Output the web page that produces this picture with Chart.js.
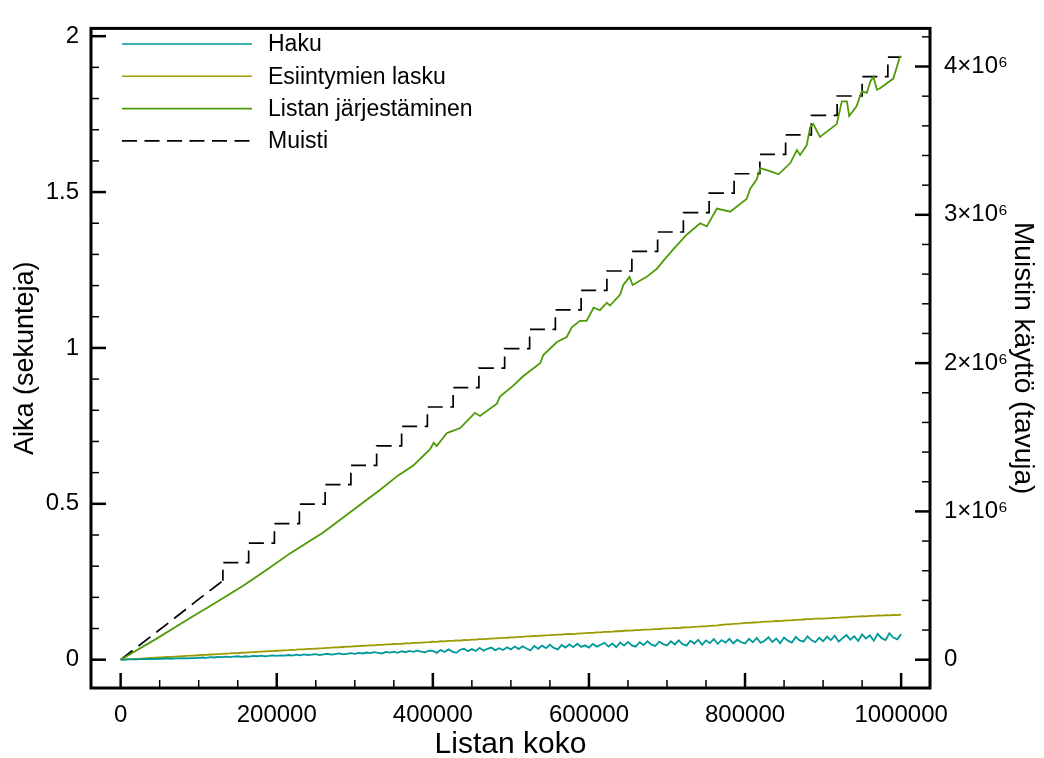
<!DOCTYPE html>
<html>
<head>
<meta charset="utf-8">
<script src="https://cdn.jsdelivr.net/npm/chart.js@4"></script>
<style>
html,body{margin:0;padding:0;background:#fff;}
canvas{display:block;}
</style>
</head>
<body>
<canvas id="c" width="1044" height="758"></canvas>
<script>
// ---------- DATA ----------
const seriesNames = ['Haku', 'Esiintymien lasku', 'Listan järjestäminen', 'Muisti'];

const listSizes = [0,5000,10000,15000,20000,25000,30000,35000,40000,45000,50000,55000,60000,65000,70000,75000,80000,85000,90000,95000,
100000,105000,110000,115000,120000,125000,130000,135000,140000,145000,150000,155000,160000,165000,170000,175000,180000,185000,190000,195000,
200000,205000,210000,215000,220000,225000,230000,235000,240000,245000,250000,255000,260000,265000,270000,275000,280000,285000,290000,295000,
300000,305000,310000,315000,320000,325000,330000,335000,340000,345000,350000,355000,360000,365000,370000,375000,380000,385000,390000,395000,
400000,405000,410000,415000,420000,425000,430000,435000,440000,445000,450000,455000,460000,465000,470000,475000,480000,485000,490000,495000,
500000,505000,510000,515000,520000,525000,530000,535000,540000,545000,550000,555000,560000,565000,570000,575000,580000,585000,590000,595000,
600000,605000,610000,615000,620000,625000,630000,635000,640000,645000,650000,655000,660000,665000,670000,675000,680000,685000,690000,695000,
700000,705000,710000,715000,720000,725000,730000,735000,740000,745000,750000,755000,760000,765000,770000,775000,780000,785000,790000,795000,
800000,805000,810000,815000,820000,825000,830000,835000,840000,845000,850000,855000,860000,865000,870000,875000,880000,885000,890000,895000,
900000,905000,910000,915000,920000,925000,930000,935000,940000,945000,950000,955000,960000,965000,970000,975000,980000,985000,990000,995000,
1000000];

const hakuTime = [0,0.000,0.001,0.001,0.001,0.002,0.002,0.002,0.003,0.002,0.003,0.003,0.004,0.003,0.004,0.004,0.005,0.004,0.005,0.005,
0.006,0.007,0.006,0.008,0.007,0.009,0.008,0.010,0.008,0.010,0.011,0.009,0.011,0.010,0.012,0.011,0.013,0.011,0.012,0.014,
0.012,0.014,0.013,0.015,0.013,0.016,0.014,0.017,0.015,0.016,0.018,0.015,0.017,0.019,0.016,0.018,0.020,0.017,0.019,0.021,
0.019,0.022,0.020,0.023,0.021,0.024,0.022,0.020,0.025,0.023,0.026,0.022,0.027,0.024,0.028,0.025,0.029,0.026,0.024,0.029,
0.028,0.022,0.031,0.025,0.033,0.026,0.022,0.032,0.035,0.027,0.034,0.028,0.038,0.029,0.035,0.039,0.030,0.037,0.031,0.040,
0.033,0.042,0.034,0.043,0.036,0.030,0.044,0.035,0.045,0.037,0.048,0.038,0.033,0.047,0.039,0.049,0.040,0.051,0.041,0.046,
0.039,0.051,0.042,0.048,0.054,0.042,0.052,0.040,0.055,0.045,0.057,0.046,0.042,0.056,0.047,0.059,0.048,0.044,0.058,0.050,
0.046,0.059,0.049,0.062,0.050,0.045,0.061,0.052,0.064,0.048,0.062,0.053,0.066,0.051,0.063,0.055,0.067,0.052,0.064,0.056,
0.052,0.067,0.056,0.070,0.054,0.061,0.072,0.057,0.068,0.053,0.071,0.061,0.055,0.073,0.062,0.058,0.075,0.063,0.056,0.070,
0.059,0.074,0.063,0.077,0.058,0.069,0.079,0.064,0.075,0.060,0.081,0.068,0.078,0.061,0.083,0.069,0.063,0.085,0.071,0.065,
0.082];

const esiintymatTime = [0,0.0007,0.0015,0.0021,0.0029,0.0035,0.0044,0.0050,0.0057,0.0064,0.0072,0.0078,0.0087,0.0092,0.0100,0.0108,0.0114,0.0122,0.0130,0.0135,
0.0143,0.0152,0.0157,0.0166,0.0171,0.0180,0.0185,0.0194,0.0200,0.0209,0.0213,0.0223,0.0228,0.0236,0.0242,0.0250,0.0257,0.0264,0.0272,0.0278,
0.0287,0.0292,0.0302,0.0306,0.0316,0.0320,0.0331,0.0334,0.0345,0.0349,0.0358,0.0365,0.0370,0.0380,0.0384,0.0394,0.0399,0.0407,0.0416,0.0420,
0.0432,0.0434,0.0447,0.0449,0.0462,0.0461,0.0477,0.0475,0.0490,0.0489,0.0503,0.0505,0.0512,0.0525,0.0522,0.0540,0.0538,0.0550,0.0556,0.0562,
0.0575,0.0574,0.0591,0.0588,0.0604,0.0601,0.0619,0.0613,0.0632,0.0628,0.0646,0.0643,0.0657,0.0660,0.0668,0.0676,0.0683,0.0692,0.0697,0.0704,
0.0718,0.0716,0.0735,0.0730,0.0748,0.0745,0.0760,0.0762,0.0773,0.0780,0.0786,0.0795,0.0801,0.0806,0.0817,0.0829,0.0822,0.0838,0.0846,0.0849,
0.0862,0.0860,0.0877,0.0874,0.0890,0.0893,0.0901,0.0912,0.0913,0.0928,0.0930,0.0935,0.0949,0.0947,0.0962,0.0966,0.0972,0.0983,0.0984,0.0996,
0.1004,0.1003,0.1020,0.1015,0.1033,0.1036,0.1044,0.1055,0.1058,0.1070,0.1071,0.1083,0.1095,0.1102,0.1118,0.1130,0.1130,0.1148,0.1155,0.1165,
0.1178,0.1180,0.1193,0.1200,0.1207,0.1218,0.1222,0.1230,0.1241,0.1240,0.1256,0.1262,0.1265,0.1280,0.1283,0.1290,0.1301,0.1300,0.1315,0.1318,
0.1320,0.1328,0.1335,0.1343,0.1348,0.1360,0.1362,0.1375,0.1380,0.1384,0.1395,0.1392,0.1408,0.1405,0.1418,0.1413,0.1428,0.1420,0.1436,0.1430,
0.1445];

const sortSizes = [0,45000,89000,120000,157000,190000,217000,260000,300000,332500,356000,375000,396500,401000,405000,418000,435000,454000,460500,482000,
486000,503000,516000,537500,541500,559000,571500,578000,588500,597000,606000,614000,623000,627000,640000,644000,652000,656000,674000,687000,
695500,710000,725500,742500,751000,764000,781000,802000,806500,815000,819500,832000,843000,858000,866500,870500,879000,883500,887500,896000,
917500,924000,930500,933500,943000,949500,956000,960500,964500,969000,973000,990000,994500,998000,1000000];
const sortTime = [0,0.066,0.134,0.180,0.237,0.293,0.341,0.409,0.484,0.545,0.592,0.623,0.675,0.696,0.685,0.727,0.743,0.792,0.782,0.821,
0.844,0.879,0.910,0.951,0.977,1.019,1.035,1.066,1.087,1.087,1.129,1.121,1.145,1.136,1.171,1.202,1.228,1.202,1.228,1.254,
1.280,1.322,1.364,1.400,1.390,1.447,1.437,1.478,1.510,1.541,1.577,1.567,1.557,1.593,1.635,1.619,1.650,1.708,1.718,1.677,
1.718,1.791,1.791,1.744,1.776,1.823,1.818,1.854,1.870,1.828,1.833,1.864,1.901,1.932,1.937];

// Memory: small-list ramp, then 128 KB steps
const memRampSizes = [0, 33000, 66000, 98000, 131000];
const memRampBytes = [0, 134000, 267000, 400000, 533000];
const memStepSizes = [131000,131000,164000,197000,229000,262000,295000,328000,360000,393000,426000,459000,492000,524000,557000,590000,623000,655000,
688000,721000,754000,786000,819000,852000,885000,918000,950000,983000,1000000];
const memStepBytes = [533000,655000,786000,917000,1049000,1180000,1311000,1442000,1573000,1704000,1835000,1966000,2097000,2228000,2359000,2490000,2621000,2753000,
2884000,3015000,3146000,3277000,3408000,3539000,3670000,3801000,3932000,4063000,4063000];

const xTickValues = [0, 200000, 400000, 600000, 800000, 1000000];
const xTickLabels = ['0', '200000', '400000', '600000', '800000', '1000000'];
const yTickValues = [0, 0.5, 1, 1.5, 2];
const yTickLabels = ['0', '0.5', '1', '1.5', '2'];
const y2TickValues = [0, 1000000, 2000000, 3000000, 4000000];
const y2TickLabels = ['0', '1×10⁶', '2×10⁶', '3×10⁶', '4×10⁶'];

// ---------- CHART ----------
const FONT = "'Liberation Sans', Arial, Helvetica, sans-serif";
const pairs = (xs, ys) => xs.map((x, i) => ({x: x, y: ys[i]}));

const frameAndTicks = {
  id: 'frameAndTicks',
  afterDatasetsDraw(chart) {
    const {ctx, chartArea: a, scales: {x, y, y2}} = chart;
    ctx.save();
    ctx.strokeStyle = '#000';
    ctx.lineCap = 'butt';
    for (let i = 0; i <= 20; i++) {
      const v = i * 50000;
      const major = i % 4 === 0;
      const px = x.getPixelForValue(v);
      ctx.lineWidth = major ? 2.5 : 1.5;
      ctx.beginPath(); ctx.moveTo(px, a.bottom); ctx.lineTo(px, a.bottom - (major ? 15 : 8)); ctx.stroke();
    }
    for (let i = 0; i <= 20; i++) {
      const v = i / 10;
      const major = i % 5 === 0;
      const py = y.getPixelForValue(v);
      ctx.lineWidth = major ? 2.5 : 1.5;
      ctx.beginPath(); ctx.moveTo(a.left, py); ctx.lineTo(a.left + (major ? 15 : 8), py); ctx.stroke();
    }
    for (let i = 0; i <= 21; i++) {
      const v = i * 200000;
      const major = i % 5 === 0;
      const py = y2.getPixelForValue(v);
      if (py < a.top) continue;
      ctx.lineWidth = major ? 2.5 : 1.5;
      ctx.beginPath(); ctx.moveTo(a.right, py); ctx.lineTo(a.right - (major ? 15 : 8), py); ctx.stroke();
    }
    ctx.lineWidth = 3;
    ctx.strokeRect(a.left, a.top, a.right - a.left, a.bottom - a.top);

    // legend
    ctx.font = '23px ' + FONT;
    ctx.textBaseline = 'middle';
    ctx.textAlign = 'left';
    chart.data.datasets.filter(ds => !ds.noLegend).forEach((ds, i) => {
      const ly = 44 + i * 32.3;
      ctx.save();
      ctx.strokeStyle = ds.borderColor;
      ctx.lineWidth = 1.6;
      ctx.setLineDash(ds.borderDash || []);
      ctx.beginPath(); ctx.moveTo(122, ly); ctx.lineTo(252, ly); ctx.stroke();
      ctx.restore();
      ctx.fillStyle = '#000';
      ctx.fillText(ds.label, 268, ly + 1);
    });
    ctx.restore();
  }
};

new Chart(document.getElementById('c'), {
  type: 'line',
  data: {
    datasets: [
      {label: seriesNames[0], data: pairs(listSizes, hakuTime), borderColor: '#009999', borderWidth: 1.8, yAxisID: 'y'},
      {label: seriesNames[1], data: pairs(listSizes, esiintymatTime), borderColor: '#9c9a00', borderWidth: 1.8, yAxisID: 'y'},
      {label: seriesNames[2], data: pairs(sortSizes, sortTime), borderColor: '#4f9a08', borderWidth: 1.8, yAxisID: 'y'},
      {label: seriesNames[3], data: pairs(memRampSizes, memRampBytes), borderColor: '#000000', borderWidth: 1.7, borderDash: [15, 7.5], yAxisID: 'y2'},
      {label: seriesNames[3], noLegend: true, data: pairs(memStepSizes, memStepBytes), borderColor: '#000000', borderWidth: 1.7, borderDash: [15, 7.5], borderDashOffset: 4, stepped: true, yAxisID: 'y2'}
    ]
  },
  options: {
    responsive: false,
    animation: false,
    events: [],
    elements: {point: {radius: 0}, line: {tension: 0, borderCapStyle: 'butt'}},
    layout: {padding: {top: 12, left: 0, right: 0, bottom: 0}},
    plugins: {legend: {display: false}, tooltip: {enabled: false}},
    scales: {
      x: {
        type: 'linear', position: 'bottom', min: -38000, max: 1037000,
        grid: {display: false, drawTicks: false}, border: {display: false},
        afterBuildTicks: s => { s.ticks = xTickValues.map(v => ({value: v})); },
        afterFit: s => { s.height = 70; },
        ticks: {padding: 13, color: '#000', font: {family: FONT, size: 24}, maxRotation: 0, autoSkip: false,
          callback: (v) => xTickLabels[xTickValues.indexOf(v)]},
        title: {display: true, text: 'Listan koko', color: '#000', font: {family: FONT, size: 30, lineHeight: 0.9}, padding: {top: 0, bottom: 0}}
      },
      y: {
        type: 'linear', position: 'left', min: -0.0908, max: 2.025,
        grid: {display: false, drawTicks: false}, border: {display: false},
        afterBuildTicks: s => { s.ticks = yTickValues.map(v => ({value: v})); },
        afterFit: s => { s.width = 91; },
        ticks: {padding: 12, color: '#000', font: {family: FONT, size: 24}, autoSkip: false,
          callback: (v) => yTickLabels[yTickValues.indexOf(v)]},
        title: {display: true, text: 'Aika (sekunteja)', color: '#000', font: {family: FONT, size: 27, lineHeight: 0.9}, padding: {top: 13, bottom: 0}}
      },
      y2: {
        type: 'linear', position: 'right', min: -190800, max: 4257000,
        grid: {display: false, drawTicks: false}, border: {display: false},
        afterBuildTicks: s => { s.ticks = y2TickValues.map(v => ({value: v})); },
        afterFit: s => { s.width = 114; },
        ticks: {padding: 14, color: '#000', font: {family: FONT, size: 24}, autoSkip: false,
          callback: (v) => y2TickLabels[y2TickValues.indexOf(v)]},
        title: {display: true, text: 'Muistin käyttö (tavuja)', color: '#000', font: {family: FONT, size: 28, lineHeight: 0.9}, padding: {top: 9, bottom: 0}}
      }
    }
  },
  plugins: [frameAndTicks]
});
</script>
</body>
</html>
